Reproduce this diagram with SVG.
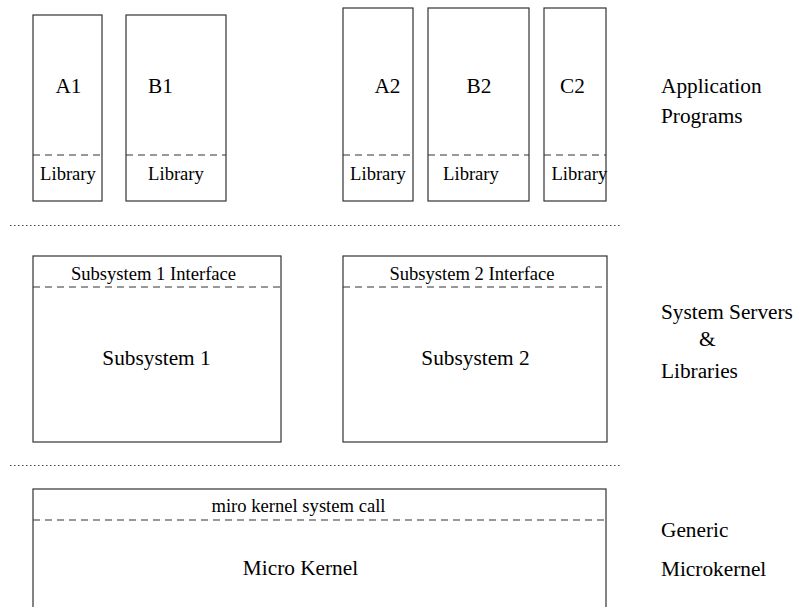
<svg xmlns="http://www.w3.org/2000/svg" width="797" height="607" viewBox="0 0 797 607" font-family="'Liberation Serif', 'Times New Roman', Times, 'DejaVu Serif', serif">
<style>
.box{fill:#fff;stroke:#333;stroke-width:1.2}
.dash{stroke:#333;stroke-width:1.2;stroke-dasharray:7,5;fill:none}
.dot{stroke:#444;stroke-width:1;stroke-dasharray:1.5,2.5;fill:none}
text{fill:#000}
.big{font-size:21.3px}
.small{font-size:18.6px}
.mid{text-anchor:middle}
</style>
<rect width="797" height="607" fill="#fff"/>
<g id="A1">
<rect class="box" x="33" y="15" width="69" height="186"/>
<line class="dash" x1="33" y1="155" x2="102" y2="155"/>
<text class="big mid" x="68.5" y="93">A1</text>
<text class="small mid" x="68" y="180">Library</text>
</g>
<g id="B1">
<rect class="box" x="126" y="15" width="100" height="186"/>
<line class="dash" x1="126" y1="155" x2="226" y2="155"/>
<text class="big mid" x="160.5" y="93">B1</text>
<text class="small mid" x="176" y="180">Library</text>
</g>
<g id="A2">
<rect class="box" x="343" y="8" width="70" height="193"/>
<line class="dash" x1="343" y1="155" x2="413" y2="155"/>
<text class="big mid" x="387.5" y="93">A2</text>
<text class="small mid" x="378" y="180">Library</text>
</g>
<g id="B2">
<rect class="box" x="428" y="8" width="101" height="193"/>
<line class="dash" x1="428" y1="155" x2="529" y2="155"/>
<text class="big mid" x="479" y="93">B2</text>
<text class="small mid" x="471" y="180">Library</text>
</g>
<g id="C2">
<rect class="box" x="544" y="8" width="62" height="193"/>
<line class="dash" x1="544" y1="155" x2="606" y2="155"/>
<text class="big mid" x="572.5" y="93">C2</text>
<text class="small" x="551.5" y="180">Library</text>
</g>
<g id="separators">
<line class="dot" x1="10" y1="225.5" x2="620" y2="225.5"/>
<line class="dot" x1="10" y1="465.5" x2="620" y2="465.5"/>
</g>
<g id="Subsystem1">
<rect class="box" x="33" y="256" width="248" height="186"/>
<line class="dash" x1="33" y1="287" x2="281" y2="287"/>
<text class="small mid" x="153.5" y="280">Subsystem 1 Interface</text>
<text class="big mid" x="156.5" y="365">Subsystem 1</text>
</g>
<g id="Subsystem2">
<rect class="box" x="343" y="256" width="264" height="186"/>
<line class="dash" x1="343" y1="287" x2="607" y2="287"/>
<text class="small mid" x="472" y="280">Subsystem 2 Interface</text>
<text class="big mid" x="475.5" y="365">Subsystem 2</text>
</g>
<g id="MicroKernel">
<rect class="box" x="33" y="489" width="573" height="140"/>
<line class="dash" x1="33" y1="520" x2="606" y2="520"/>
<text class="small mid" x="298.5" y="512">miro kernel system call</text>
<text class="big mid" x="300.5" y="575">Micro Kernel</text>
</g>
<g id="labels">
<text class="big" x="661" y="93">Application</text>
<text class="big" x="661" y="123">Programs</text>
<text class="big" x="661" y="319">System Servers</text>
<text class="big" x="699" y="346">&amp;</text>
<text class="big" x="661" y="378">Libraries</text>
<text class="big" x="661" y="537">Generic</text>
<text class="big" x="661" y="576">Microkernel</text>
</g>
</svg>
